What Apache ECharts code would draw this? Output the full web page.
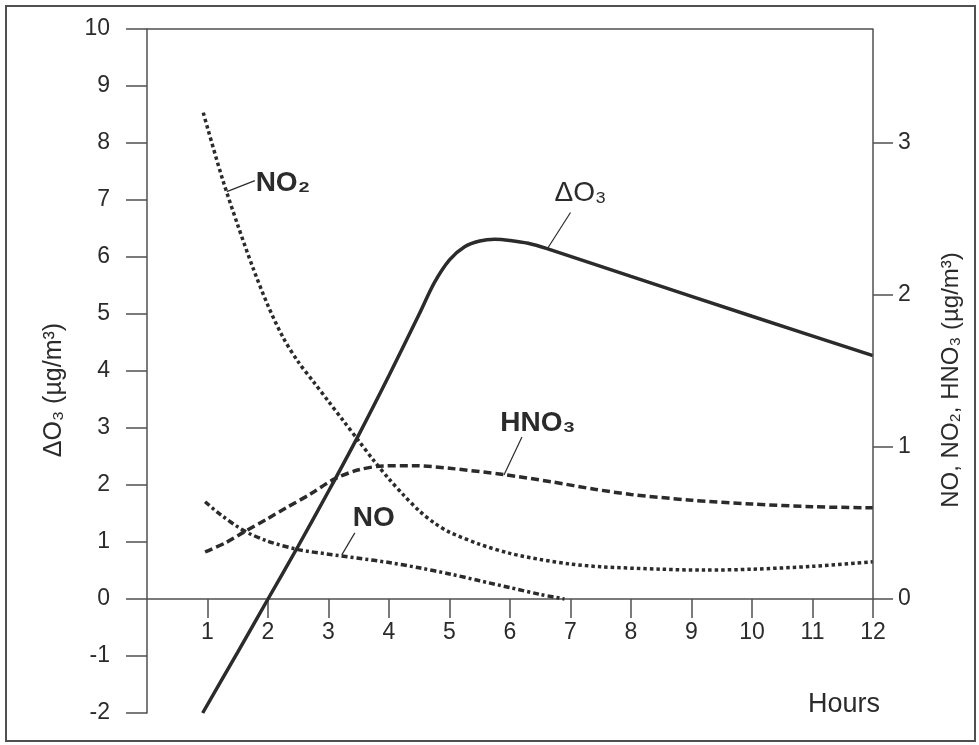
<!DOCTYPE html>
<html>
<head>
<meta charset="utf-8">
<script src="https://cdn.jsdelivr.net/npm/echarts@6/dist/echarts.min.js"></script>
<style>
  html, body { margin: 0; padding: 0; background: #fff; }
  #chart { width: 979px; height: 745px; }
</style>
</head>
<body>
<div id="chart"></div>
<script>
// tick values
const hourTicks = [1, 2, 3, 4, 5, 6, 7, 8, 9, 10, 11, 12]
const rightTicks = [0, 1, 2, 3]

// delta O3, left axis (µg/m3)
const dO3 = [[0.92, -2.0], [1.5, -0.93], [2.0, 0.0], [2.5, 0.93], [3.0, 1.89], [3.5, 2.88],
  [4.0, 3.92], [4.5, 5.0], [4.75, 5.55], [5.0, 5.95], [5.25, 6.18], [5.5, 6.28], [5.75, 6.31],
  [6.0, 6.29], [6.3, 6.24], [6.6, 6.15], [8, 5.66], [10, 4.96], [12, 4.27]]

// right axis (µg/m3)
const no2 = [[0.93, 3.2], [1.0, 3.1], [1.25, 2.76], [1.5, 2.46], [1.75, 2.18], [2.0, 1.93],
  [2.25, 1.72], [2.5, 1.56], [2.75, 1.43], [3.0, 1.3], [3.25, 1.17], [3.5, 1.04], [3.75, 0.91],
  [4.0, 0.79], [4.25, 0.68], [4.5, 0.58], [4.75, 0.5], [5.0, 0.44], [5.5, 0.36], [6.0, 0.3],
  [6.5, 0.26], [7.0, 0.23], [7.5, 0.212], [8.5, 0.196], [9.2, 0.19], [10, 0.196], [11, 0.215], [12, 0.245]]
const hno3 = [[0.96, 0.31], [1.3, 0.37], [1.6, 0.44], [2.0, 0.53], [2.3, 0.6], [2.7, 0.69],
  [3.1, 0.79], [3.5, 0.85], [3.9, 0.875], [4.4, 0.877], [5.0, 0.86], [5.9, 0.818], [6.7, 0.77],
  [7.4, 0.722], [8.0, 0.688], [9.0, 0.65], [10, 0.625], [11, 0.607], [12, 0.6]]
const no = [[0.96, 0.64], [1.2, 0.56], [1.6, 0.45], [2.0, 0.38], [2.5, 0.325], [3.0, 0.295],
  [3.5, 0.268], [4.0, 0.24], [4.5, 0.205], [5.0, 0.165], [5.5, 0.12], [6.0, 0.075], [6.5, 0.03], [6.9, 0.0]]

const font = "'Liberation Sans', Arial, sans-serif"
const ink = '#2b2b2b'
const axisInk = '#505050'

let chart = echarts.init(document.getElementById('chart'))

function curve(name, data, yIdx, dash, width) {
  return {
    name: name, type: 'line', data: data, xAxisIndex: 0, yAxisIndex: yIdx,
    smooth: 0.3, symbol: 'none', silent: true,
    lineStyle: {color: ink, width: width, type: dash}
  }
}

// right axis line, only above zero
let rightLine = {
  silent: true, symbol: 'none',
  lineStyle: {color: axisInk, width: 1.5, type: 'solid'},
  label: {show: false},
  data: [[{coord: [12, 0]}, {coord: [12, 3.75]}]]
}

let axisLine = {lineStyle: {color: axisInk, width: 1.5}}
let hidden = {show: false}

let option = {
  animation: false,
  backgroundColor: '#fff',
  grid: [
    {left: 147, right: 106, top: 29, bottom: 32, outerBoundsMode: 'none'},
    {left: 147, right: 106, top: 29, bottom: 146, outerBoundsMode: 'none'}
  ],
  xAxis: [{
    // data axis of the plot
    gridIndex: 0, type: 'value', min: 0, max: 12, show: false
  }, {
    // top border
    gridIndex: 0, type: 'value', min: 0, max: 12, position: 'top',
    axisLine: {show: true, onZero: false, lineStyle: axisLine.lineStyle},
    axisTick: hidden, axisLabel: hidden, splitLine: hidden
  }, {
    // hours axis drawn at y = 0
    gridIndex: 1, type: 'value', min: 0, max: 12, interval: 1, position: 'bottom',
    axisLine: {show: true, onZero: false, lineStyle: axisLine.lineStyle},
    axisTick: {show: true, inside: false, length: 19, customValues: hourTicks, lineStyle: axisLine.lineStyle},
    axisLabel: {customValues: hourTicks, margin: 22, fontSize: 23, color: ink, fontFamily: font},
    splitLine: hidden
  }],
  yAxis: [{
    gridIndex: 0, type: 'value', min: -2, max: 10, interval: 1, position: 'left',
    axisLine: {show: true, onZero: false, lineStyle: axisLine.lineStyle},
    axisTick: {show: true, inside: false, length: 21, lineStyle: axisLine.lineStyle},
    axisLabel: {margin: 37, fontSize: 23, color: ink, fontFamily: font},
    splitLine: hidden
  }, {
    gridIndex: 0, type: 'value', min: -0.75, max: 3.75, position: 'right',
    axisLine: {show: false, onZero: false},
    axisTick: {show: true, inside: false, length: 20, customValues: rightTicks, lineStyle: axisLine.lineStyle},
    axisLabel: {customValues: rightTicks, margin: 25, fontSize: 23, color: ink, fontFamily: font},
    splitLine: hidden
  }, {
    gridIndex: 1, type: 'value', min: 0, max: 10, show: false
  }],
  series: [
    curve('ΔO3', dO3, 0, 'solid', 3.5),
    Object.assign(curve('NO2', no2, 1, [3.5, 3], 3.5), {markLine: rightLine}),
    curve('HNO3', hno3, 1, [8, 4], 3.5),
    curve('NO', no, 1, [6, 3, 3, 3], 3.5)
  ]
}
chart.setOption(option)

// labels with short leader lines, anchored on the curves
function tag(seriesIndex, at, lineEnd, text, textPos, bold) {
  let p = chart.convertToPixel({seriesIndex: seriesIndex}, at)
  return [{
    type: 'line', silent: true,
    shape: {x1: p[0], y1: p[1], x2: p[0] + lineEnd[0], y2: p[1] + lineEnd[1]},
    style: {stroke: ink, lineWidth: 1.2}
  }, {
    type: 'text', silent: true, x: p[0] + textPos[0], y: p[1] + textPos[1],
    style: {text: text, fill: ink, font: (bold ? 'bold ' : '') + '28px ' + font, textAlign: 'center', textVerticalAlign: 'middle'}
  }]
}

let graphics = [{
  type: 'rect', silent: true, z: -1,
  shape: {x: 6, y: 6, width: 969, height: 735},
  style: {fill: 'none', stroke: axisInk, lineWidth: 2}
}, {
  type: 'text', silent: true, x: 54, y: 390, rotation: Math.PI / 2,
  style: {text: 'ΔO₃ (µg/m³)', fill: ink, font: '25px ' + font, textAlign: 'center', textVerticalAlign: 'middle'}
}, {
  type: 'text', silent: true, x: 951, y: 380, rotation: Math.PI / 2,
  style: {text: 'NO, NO₂, HNO₃ (µg/m³)', fill: ink, font: '24px ' + font, textAlign: 'center', textVerticalAlign: 'middle'}
}, {
  type: 'text', silent: true, x: 844, y: 705,
  style: {text: 'Hours', fill: ink, font: '27px ' + font, textAlign: 'center', textVerticalAlign: 'middle'}
}]
graphics = graphics
  .concat(tag(1, [1.32, 2.68], [28, -11], 'NO₂', [56, -8], true))
  .concat(tag(0, [6.62, 6.15], [23, -36], 'ΔO₃', [33, -55], false))
  .concat(tag(2, [5.9, 0.816], [18, -38], 'HNO₃', [34, -52], true))
  .concat(tag(3, [3.22, 0.29], [13, -22], 'NO', [32, -37], true))

chart.setOption({graphic: graphics})
</script>
</body>
</html>
